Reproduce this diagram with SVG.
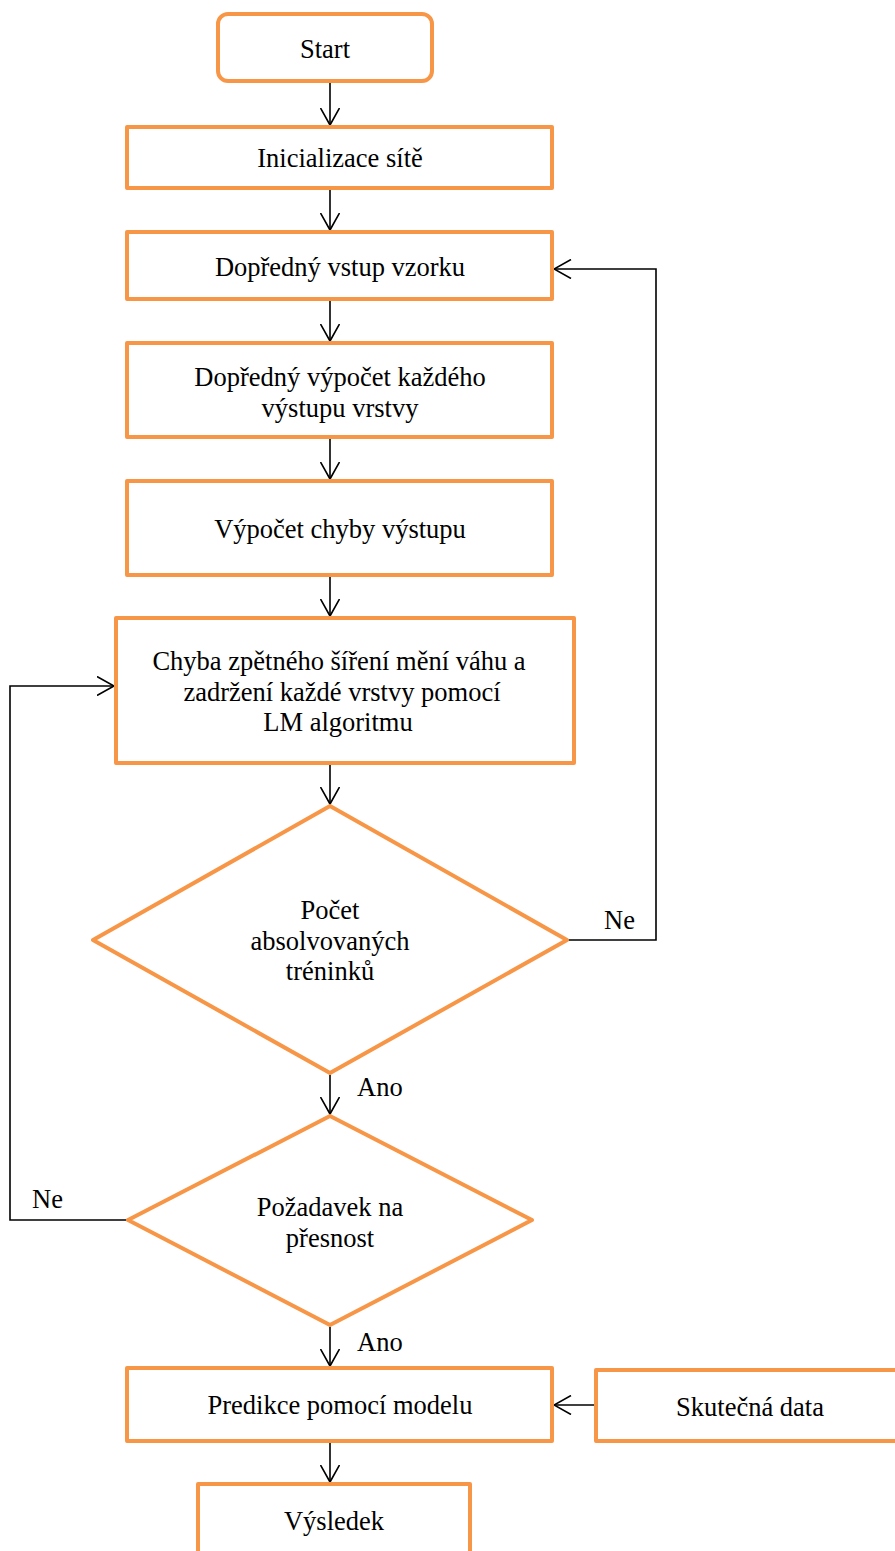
<svg xmlns="http://www.w3.org/2000/svg" width="895" height="1551" viewBox="0 0 895 1551">
<style>
.n{fill:#fff;stroke:#F79646;stroke-width:4;stroke-linejoin:round}
text{font-family:'Liberation Serif','Times New Roman',serif;font-size:26.5px;fill:#000}
.t{text-anchor:middle;dominant-baseline:central}
.c{fill:none;stroke:#000;stroke-width:1.6}
</style>
<defs>
<marker id="a" viewBox="0 0 19 20" refX="17.5" refY="10" markerWidth="19" markerHeight="20" markerUnits="userSpaceOnUse" orient="auto">
<path d="M0.5,0.5 L17.5,10 L0.5,19.5" fill="none" stroke="#000" stroke-width="1.6"/>
</marker>
</defs>
<g id="connectors">
<path class="c" d="M330,83 V125" marker-end="url(#a)"/>
<path class="c" d="M330,190 V230" marker-end="url(#a)"/>
<path class="c" d="M330,301 V341" marker-end="url(#a)"/>
<path class="c" d="M330,439 V479" marker-end="url(#a)"/>
<path class="c" d="M330,577 V616" marker-end="url(#a)"/>
<path class="c" d="M330,765 V804" marker-end="url(#a)"/>
<path class="c" d="M330,1075 V1114" marker-end="url(#a)"/>
<path class="c" d="M330,1327 V1366" marker-end="url(#a)"/>
<path class="c" d="M330,1443 V1482" marker-end="url(#a)"/>
<path class="c" d="M567,940 H656 V269 H554" marker-end="url(#a)"/>
<path class="c" d="M128,1220 H10 V686 H114" marker-end="url(#a)"/>
<path class="c" d="M596,1405 H554" marker-end="url(#a)"/>
<text x="604" y="929">Ne</text>
<text x="32" y="1208">Ne</text>
<text x="357" y="1096">Ano</text>
<text x="357" y="1351">Ano</text>
</g>
<g id="start"><rect class="n" x="218" y="14" width="214" height="67" rx="10"/><text class="t" x="325" y="49">Start</text></g>
<g id="init"><rect class="n" x="127" y="127" width="425" height="61"/><text class="t" x="340" y="158">Inicializace sítě</text></g>
<g id="vstup"><rect class="n" x="127" y="232" width="425" height="67"/><text class="t" x="340" y="267">Dopředný vstup vzorku</text></g>
<g id="vypocet"><rect class="n" x="127" y="343" width="425" height="94"/><text class="t" x="340" y="377">Dopředný výpočet každého</text><text class="t" x="340" y="408">výstupu vrstvy</text></g>
<g id="chyba"><rect class="n" x="127" y="481" width="425" height="94"/><text class="t" x="340" y="529">Výpočet chyby výstupu</text></g>
<g id="zpetne"><rect class="n" x="116" y="618" width="458" height="145"/><text class="t" x="339" y="661">Chyba zpětného šíření mění váhu a</text><text class="t" x="342" y="692">zadržení každé vrstvy pomocí</text><text class="t" x="338" y="722">LM algoritmu</text></g>
<g id="pocet"><polygon class="n" points="330,806 567,940 330,1073 93,940"/><text class="t" x="330" y="910">Počet</text><text class="t" x="330" y="941">absolvovaných</text><text class="t" x="330" y="971">tréninků</text></g>
<g id="presnost"><polygon class="n" points="330,1116 532,1220 330,1325 128,1220"/><text class="t" x="330" y="1207">Požadavek na</text><text class="t" x="330" y="1238">přesnost</text></g>
<g id="predikce"><rect class="n" x="127" y="1368" width="425" height="73"/><text class="t" x="340" y="1405">Predikce pomocí modelu</text></g>
<g id="data"><rect class="n" x="596" y="1370" width="310" height="71"/><text class="t" x="750" y="1407">Skutečná data</text></g>
<g id="vysledek"><rect class="n" x="198" y="1484" width="272" height="80"/><text class="t" x="334" y="1521">Výsledek</text></g>
</svg>
